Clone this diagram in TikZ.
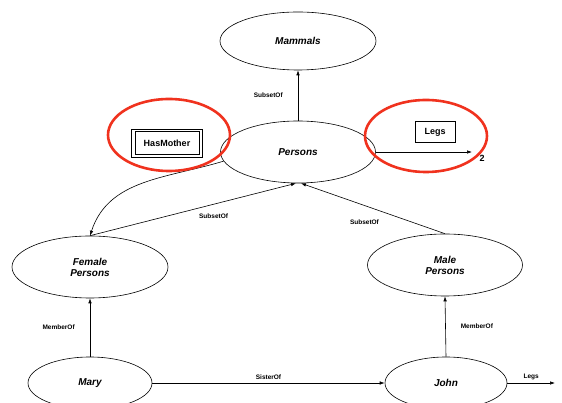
\documentclass[tikz,border=0pt]{standalone}
\usepackage{fontspec}
\setmainfont{Liberation Sans}
\usetikzlibrary{positioning, shapes.geometric, arrows.meta}
\definecolor{mark}{RGB}{240, 50, 30}

\begin{document}
\begin{tikzpicture}[
    x=1pt, y=1pt,
    concept/.style={
        ellipse,
        draw,
        line width=0.6pt,
        inner sep=0pt,
        align=center,
        font=\fontsize{10}{11}\selectfont\bfseries\itshape
    },
    slot_style/.style={
        draw,
        line width=0.6pt,
        inner sep=0pt,
        font=\fontsize{9}{10}\selectfont\bfseries
    },
    rel/.style={
        line width=0.6pt,
        -{Latex[length=5pt, width=3.5pt]}
    },
    lbl/.style={font=\fontsize{6.5}{7}\selectfont\bfseries, inner sep=1pt},
    ring/.style={ellipse, draw=mark, line width=2.6pt, minimum width=122pt, minimum height=72pt}
]

\useasboundingbox (0,0) rectangle (562,403);

\node[concept, minimum width=156pt, minimum height=58pt] (mammals) at (298,362) {Mammals};
\node[concept, minimum width=155pt, minimum height=62pt] (persons) at (298,251) {Persons};
\node[concept, minimum width=156pt, minimum height=62pt] (female) at (90,136) {Female\\Persons};
\node[concept, minimum width=155pt, minimum height=62pt] (male) at (445,138) {Male\\Persons};
\node[concept, minimum width=124pt, minimum height=52pt] (mary) at (90,20) {Mary};
\node[concept, minimum width=122pt, minimum height=52pt] (john) at (446,20) {John};

\node[slot_style, minimum width=71pt, minimum height=28pt] (hasmother) at (167,260) {HasMother};
\draw[line width=0.6pt] ([shift={(4pt,3pt)}]hasmother.south west) rectangle ([shift={(-4pt,-3pt)}]hasmother.north east);
\node[slot_style, minimum width=40pt, minimum height=21pt] (legs) at (435,271) {Legs};

\coordinate (legsend) at (472,251);
\coordinate (johnlegs) at (555,20);

\draw[rel] (persons.north) -- (mammals.south)
    node[midway, left=14pt, lbl] {SubsetOf};
\draw[rel] (female.north) -- ([xshift=-2pt]persons.south)
    node[pos=0.6, below=8pt, lbl] {SubsetOf};
\draw[rel] (male.north) -- ([xshift=3pt]persons.south)
    node[pos=0.45, below left=7pt and 0pt, lbl] {SubsetOf};
\draw[rel] (persons.187) to[out=197, in=72] (female.north);
\draw[rel] (persons.east) -- (legsend)
    node[below right=0pt and 4pt, font=\fontsize{9}{10}\selectfont\bfseries] {2};

\draw[rel] (mary.north) -- (female.south)
    node[midway, left=14pt, lbl] {MemberOf};
\draw[rel] (john.north) -- (male.south)
    node[midway, right=14pt, lbl] {MemberOf};
\draw[rel] (mary.east) -- (john.west)
    node[midway, above=2pt, lbl] {SisterOf};
\draw[rel] (john.east) -- (johnlegs)
    node[midway, above=2pt, lbl] {Legs};

\node[ring] (ringmother) at (169,268) {};
\node[ring] (ringlegs) at (426,267) {};

\end{tikzpicture}
\end{document}
